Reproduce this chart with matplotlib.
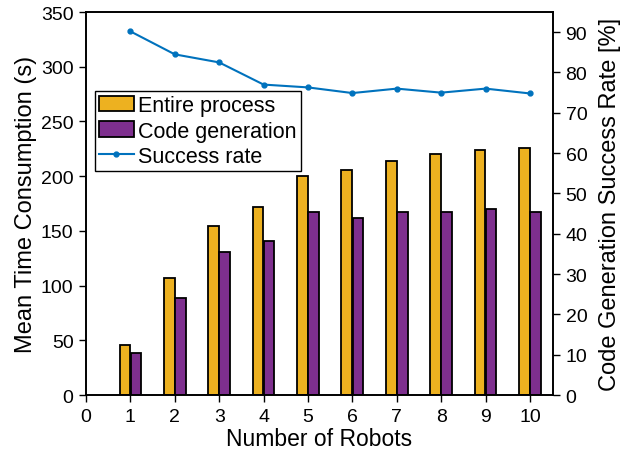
import numpy as np
import matplotlib
matplotlib.use("Agg")
import matplotlib.pyplot as plt

plt.rcParams["font.family"] = ["Liberation Sans", "DejaVu Sans"]
plt.rcParams["font.size"] = 14

# Mean time per run and code generation success rate vs. robot count
robots = [1, 2, 3, 4, 5, 6, 7, 8, 9, 10]
entire_process = [46, 107, 154, 172, 200, 206, 214, 220, 224, 226]
code_generation = [38, 89, 131, 141, 167, 162, 167, 167, 170, 167]
success_rate = [90.2, 84.5, 82.5, 77.0, 76.3, 74.9, 76.0, 75.0, 76.0, 74.8]

fig = plt.figure(figsize=(6.38, 4.6), dpi=100)
ax = fig.add_axes([0.1348, 0.1391, 0.732, 0.8326])
ax2 = ax.twinx()

x = np.array(robots)
w = 0.24
b1 = ax.bar(x - 0.125, entire_process, w, color="#EDB120", edgecolor="black", linewidth=1.3,
            label="Entire process")
b2 = ax.bar(x + 0.125, code_generation, w, color="#7E2F8E", edgecolor="black", linewidth=1.3,
            label="Code generation")
l1, = ax2.plot(x, success_rate, color="#0072BD", marker=".", markersize=7, linewidth=1.5,
               label="Success rate")

ax.set_xlim(0, 10.52)
ax.set_ylim(0, 350)
ax2.set_ylim(0, 95)
ax.set_xticks(range(0, 11))
ax.set_yticks(range(0, 351, 50))
ax2.set_yticks(range(0, 91, 10))

ax.set_xlabel("Number of Robots", fontsize=16.5, labelpad=2)
ax.set_ylabel("Mean Time Consumption (s)", fontsize=17, labelpad=3)
ax2.set_ylabel("Code Generation Success Rate [%]", fontsize=17, labelpad=8)

for a in (ax, ax2):
    a.tick_params(direction="out", length=5, width=1, labelsize=14, colors="black", pad=4)
    for s in a.spines.values():
        s.set_linewidth(1.2)

leg = ax.legend([b1, b2, l1], ["Entire process", "Code generation", "Success rate"],
                loc="upper left", bbox_to_anchor=(0.019, 0.794), fancybox=False,
                edgecolor="black", framealpha=1, borderpad=0.2, labelspacing=0.2,
                handlelength=1.6, handletextpad=0.2, borderaxespad=0, fontsize=15.5)
leg.get_frame().set_linewidth(1.0)

fig.savefig("out.png", dpi=100)
